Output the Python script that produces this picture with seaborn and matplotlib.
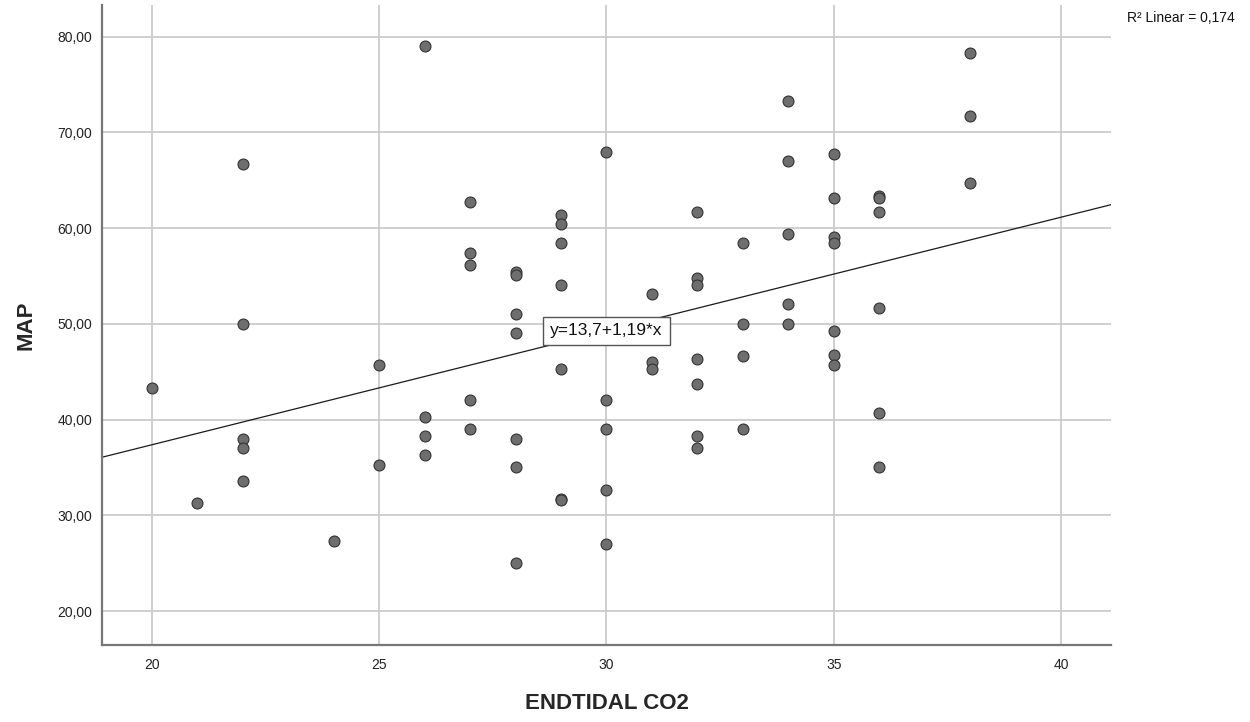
import numpy as np
import pandas as pd
import matplotlib
matplotlib.use("Agg")
import matplotlib.pyplot as plt
import seaborn as sns

# ---- data ----
endtidal_co2 = [20,
                21,
                22, 22, 22, 22, 22,
                24,
                25, 25,
                26, 26, 26, 26,
                27, 27, 27, 27, 27,
                28, 28, 28, 28, 28, 28, 28,
                29, 29, 29, 29, 29, 29, 29,
                30, 30, 30, 30, 30,
                31, 31, 31,
                32, 32, 32, 32, 32, 32, 32,
                33, 33, 33, 33,
                34, 34, 34, 34, 34,
                35, 35, 35, 35, 35, 35, 35,
                36, 36, 36, 36, 36, 36,
                38, 38, 38]
map_values = [43.3,
              31.3,
              66.7, 50.0, 38.0, 37.0, 33.6,
              27.3,
              45.7, 35.3,
              79.0, 40.3, 38.3, 36.3,
              62.7, 57.4, 56.1, 42.0, 39.0,
              55.4, 55.1, 51.0, 49.0, 38.0, 35.0, 25.0,
              61.4, 60.4, 58.4, 54.1, 45.3, 31.7, 31.6,
              68.0, 42.0, 39.0, 32.6, 27.0,
              53.1, 46.0, 45.3,
              61.7, 54.8, 54.1, 46.3, 43.7, 38.3, 37.0,
              58.4, 50.0, 46.6, 39.0,
              73.3, 67.0, 59.4, 52.1, 50.0,
              67.7, 63.1, 59.1, 58.4, 49.3, 46.7, 45.7,
              63.4, 63.1, 61.7, 51.7, 40.7, 35.0,
              78.3, 71.7, 64.7]
x_ticks = [20, 25, 30, 35, 40]
y_ticks = [20, 30, 40, 50, 60, 70, 80]
y_tick_labels = ["20,00", "30,00", "40,00", "50,00", "60,00", "70,00", "80,00"]
equation_text = "y=13,7+1,19*x"
r2_text = "R\u00b2 Linear = 0,174"
x_label = "ENDTIDAL CO2"
y_label = "MAP"

df = pd.DataFrame({x_label: endtidal_co2, y_label: map_values})

sns.set_style("white")
plt.rcParams["font.family"] = ["Liberation Sans", "DejaVu Sans"]

fig = plt.figure(figsize=(12.5, 7.22), dpi=100)
ax = fig.add_axes([0.0816, 0.106, 0.8072, 0.887])

ax.set_xlim(18.9, 41.1)
ax.set_ylim(16.4, 83.3)

sns.scatterplot(data=df, x=x_label, y=y_label, ax=ax, s=62,
                color="#6e6e6e", edgecolor="#333333", linewidth=0.8, zorder=3)
sns.regplot(data=df, x=x_label, y=y_label, ax=ax, scatter=False, ci=None,
            truncate=False, line_kws=dict(color="#1a1a1a", lw=0.9, zorder=2))

ax.set_xlim(18.9, 41.1)
ax.set_ylim(16.4, 83.3)

ax.set_xticks(x_ticks)
ax.set_yticks(y_ticks)
ax.set_yticklabels(y_tick_labels)
ax.tick_params(axis="both", length=0, labelsize=10, colors="#222222")
ax.tick_params(axis="x", pad=9)
ax.tick_params(axis="y", pad=7)

ax.grid(True, color="#cbcbcb", lw=1.3, zorder=0)
ax.set_axisbelow(True)
for side in ["top", "right"]:
    ax.spines[side].set_visible(False)
for side in ["left", "bottom"]:
    ax.spines[side].set_color("#777777")
    ax.spines[side].set_linewidth(1.6)

ax.set_xlabel(x_label, fontsize=16, fontweight="bold", labelpad=15)
ax.set_ylabel(y_label, fontsize=16, fontweight="bold", labelpad=15)

slope, intercept = np.polyfit(df[x_label], df[y_label], 1)
ax.text(30, intercept + slope * 30, equation_text, ha="center", va="center",
        fontsize=12.5, color="#111111", zorder=5,
        bbox=dict(boxstyle="square,pad=0.4", fc="white", ec="#555555", lw=1.0))

fig.text(0.9016, 0.975, r2_text, ha="left", va="center", fontsize=10, color="#111111")

fig.savefig("out.png", dpi=100)
